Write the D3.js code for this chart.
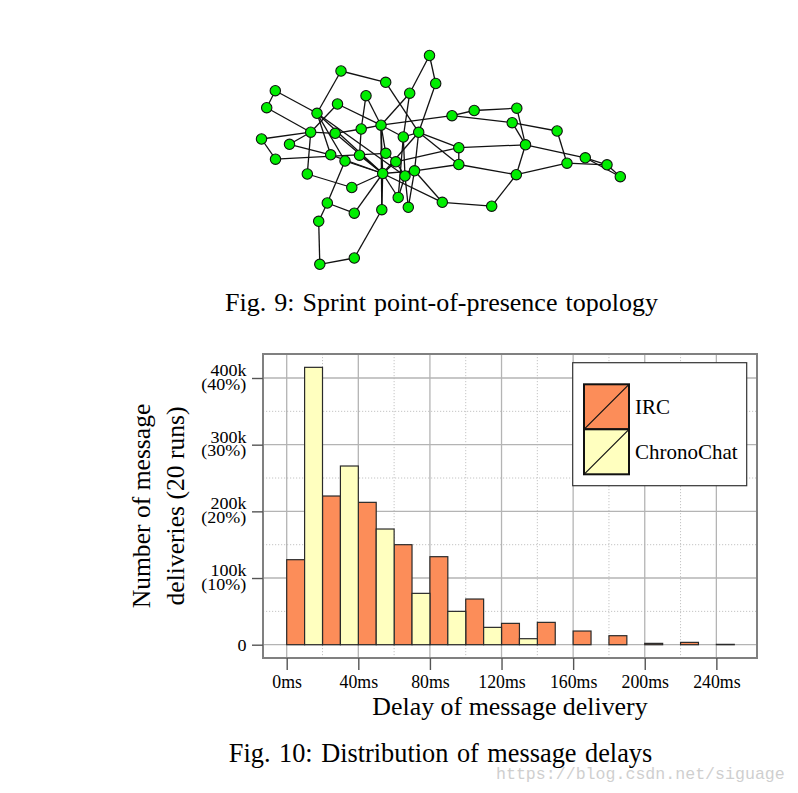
<!DOCTYPE html>
<html><head><meta charset="utf-8">
<script src="https://cdn.jsdelivr.net/npm/d3@7"></script>
<style>
body{margin:0;background:#fff;}
svg{display:block;}
</style></head>
<body>
<svg id="c" width="798" height="793"></svg>
<script>
// ---------- Fig. 9 network data (layout units) ----------
const nodeIds = ["A","B","C","D","E","F","G","H","I","J","K","L","M","N","O","P","Q","R","S","T","U","V","W","X","Y","Z","AA","AB","AC","AD","AE","AF","AG","AH","AI","AJ","AK","AL","AM","BA","BB","BC","BD","BE","BF","BG","BH","BI","BJ","BK","BL","BM"];
const nodeX = [174.5,86,130.7,180.7,20.3,154.7,111,11.7,82.5,62,197,126,106.2,55.7,80.2,163.7,148.3,6.5,34.5,75.7,104.5,130.8,20.5,90,140.8,127.7,150,159.5,52.3,96.8,143.2,153.3,72.3,187.3,99.3,126.8,63.7,99.3,64.8,219.2,261.8,257.2,302.1,203.8,270.5,203.8,312,330.3,352,365.3,261.3,236.7];
const nodeY = [10.5,26,37.3,38.5,45.7,48.2,50.7,62.7,59,68.3,70.7,80.2,84,87.2,88.3,87.3,92,94,99.3,109.8,110.2,108.3,114.2,116,116.8,128.5,131,125.8,129,142.5,152.5,162.3,158,157.3,168.2,164.7,176.3,213,219.3,65.5,63.2,77.7,86,102.7,99.8,119.5,118.2,112.8,119.8,131.7,129.7,161.2];
const edgeList = [
 ["A","D"],["A","F"],["B","C"],["B","J"],["C","P"],["D","P"],["F","L"],["F","Q"],
 ["E","H"],["E","J"],["H","N"],["I","N"],["I","L"],["G","M"],["G","L"],
 ["J","T"],["J","X"],["J","Z"],["J","AA"],["R","N"],["R","W"],["S","N"],["S","T"],
 ["N","O"],["O","M"],["M","L"],["L","K"],["K","BA"],["K","BC"],["BA","BB"],
 ["BB","BF"],["BC","BF"],["BC","BD"],["BD","BH"],["BF","BE"],["BF","BI"],["BE","BG"],
 ["BG","BL"],["BL","BF"],["BL","BH"],["BL","BM"],["BM","AH"],["BH","BJ"],["BI","BJ"],
 ["BI","BK"],["BJ","BK"],["P","BE"],["P","BG"],["Y","BE"],["AB","BG"],["Z","AH"],
 ["W","V"],["N","AC"],["AC","AD"],["AD","Z"],["X","AG"],["AG","AK"],["AG","AI"],
 ["AI","Z"],["AK","AM"],["AM","AL"],["AL","AJ"],["AJ","Z"],["AJ","L"],["L","V"],
 ["L","Q"],["L","Z"],["Q","AA"],["Q","P"],["P","Z"],["P","AB"],["V","Y"],["Y","AA"],
 ["Y","Z"],["Z","AB"],["Z","AE"],["AA","AF"],["AB","AF"],["AE","AA"],["U","Z"],
 ["X","Z"],["T","Z"],["M","U"],["O","Z"],["Q","AE"],["AB","AH"]
];

// ---------- Fig. 10 histogram data ----------
const binWidth = 10; // ms
const ircBinStart = [0,20,40,60,80,100,120,140,160,180,200,220,240];
const ircCounts   = [127500,223000,213500,150000,132000,68500,32000,33500,20500,13500,2000,3500,500];
const chronoBinStart = [10,30,50,70,90,110,130];
const chronoCounts   = [416000,268000,173500,77000,50000,26000,9000];
const xTickValues = [0,40,80,120,160,200,240];
const xMinorValues = [20,60,100,140,180,220];
const yTickValues = [0,100000,200000,300000,400000];
const yTickLabels = ["0","100k","200k","300k","400k"];
const yTickPercents = ["","(10%)","(20%)","(30%)","(40%)"];
const yMinorValues = [50000,150000,250000,350000];
const seriesNames = ["IRC","ChronoChat"];
const seriesColors = ["#fc8d59","#ffffbf"];

const SERIF = '"Liberation Serif","Times New Roman",serif';
const svg = d3.select("#c").style("font-family", SERIF);
svg.append("rect").attr("width",798).attr("height",793).attr("fill","#fff");

// ---------- Network ----------
const gx = d3.scaleLinear().domain([0,380]).range([255,635]);
const gy = d3.scaleLinear().domain([0,220]).range([45,265]);
const nodes = nodeIds.map((id,i)=>({id, x:nodeX[i], y:nodeY[i]}));
const byId = new Map(nodes.map(n=>[n.id,n]));
const gNet = svg.append("g");
gNet.selectAll("line").data(edgeList).join("line")
  .attr("x1",d=>gx(byId.get(d[0]).x)).attr("y1",d=>gy(byId.get(d[0]).y))
  .attr("x2",d=>gx(byId.get(d[1]).x)).attr("y2",d=>gy(byId.get(d[1]).y))
  .attr("stroke","#111").attr("stroke-width",1.3);
gNet.selectAll("circle").data(nodes).join("circle")
  .attr("cx",d=>gx(d.x)).attr("cy",d=>gy(d.y)).attr("r",5.2)
  .attr("fill","#00ee00").attr("stroke","#111").attr("stroke-width",1.1);

svg.append("text").attr("x",441.5).attr("y",310.5).attr("text-anchor","middle")
  .attr("font-size",26).attr("word-spacing",1.5).text("Fig. 9: Sprint point-of-presence topology");

// ---------- Histogram ----------
const pLeft=263, pRight=757, pTop=354, pBottom=658;
const x = d3.scaleLinear().domain([-13.24,262.7]).range([pLeft,pRight]);
const y = d3.scaleLinear().domain([-19950,436000]).range([pBottom,pTop]);
const gH = svg.append("g");

// grid
gH.append("g").selectAll("line").data(yMinorValues).join("line")
  .attr("x1",pLeft).attr("x2",pRight).attr("y1",d=>y(d)).attr("y2",d=>y(d))
  .attr("stroke","#c4c4c4").attr("stroke-width",1).attr("stroke-dasharray","1.2,1.8");
gH.append("g").selectAll("line").data(xMinorValues).join("line")
  .attr("y1",pTop).attr("y2",pBottom).attr("x1",d=>x(d)).attr("x2",d=>x(d))
  .attr("stroke","#c4c4c4").attr("stroke-width",1).attr("stroke-dasharray","1.2,1.8");
gH.append("g").selectAll("line").data(yTickValues).join("line")
  .attr("x1",pLeft).attr("x2",pRight).attr("y1",d=>y(d)).attr("y2",d=>y(d))
  .attr("stroke","#b4b4b4").attr("stroke-width",1.3);
gH.append("g").selectAll("line").data(xTickValues).join("line")
  .attr("y1",pTop).attr("y2",pBottom).attr("x1",d=>x(d)).attr("x2",d=>x(d))
  .attr("stroke","#b4b4b4").attr("stroke-width",1.3);

// bars
const drawBars = (starts, counts, color) => {
  gH.append("g").selectAll("rect").data(starts.map((s,i)=>({s,v:counts[i]}))).join("rect")
    .attr("x",d=>x(d.s)).attr("width",d=>x(d.s+binWidth)-x(d.s))
    .attr("y",d=>y(d.v)).attr("height",d=>y(0)-y(d.v))
    .attr("fill",color).attr("stroke","#2a2a2a").attr("stroke-width",1.2);
};
drawBars(ircBinStart, ircCounts, seriesColors[0]);
drawBars(chronoBinStart, chronoCounts, seriesColors[1]);

// frame
gH.append("rect").attr("x",pLeft).attr("y",pTop).attr("width",pRight-pLeft).attr("height",pBottom-pTop)
  .attr("fill","none").attr("stroke","#808080").attr("stroke-width",2);

// x axis
const xAxis = d3.axisBottom(x).tickValues(xTickValues).tickSize(12).tickPadding(6)
  .tickFormat(d=>d+"ms");
const gxA = gH.append("g").attr("transform",`translate(0,${pBottom})`).call(xAxis);
gxA.attr("font-family",null);
gxA.select(".domain").remove();
gxA.selectAll(".tick line").attr("stroke","#555").attr("stroke-width",1.4);
gxA.selectAll(".tick text").style("font-family",SERIF).attr("font-size",17.8)
  .attr("fill","#000").attr("dy",null).attr("y",30.3);

// y axis
const yAxis = d3.axisLeft(y).tickValues(yTickValues).tickSize(11).tickFormat("");
const gyA = gH.append("g").attr("transform",`translate(${pLeft},0)`).call(yAxis);
gyA.select(".domain").remove();
gyA.selectAll(".tick line").attr("stroke","#555").attr("stroke-width",1.4);
yTickValues.forEach((v,i)=>{
  const g = gH.append("g").attr("transform",`translate(246.6,${y(v)}) scale(1.1,1)`);
  const t = g.append("text").attr("text-anchor","end").attr("font-size",16.4).attr("fill","#000");
  if (yTickPercents[i]==="") {
    t.attr("x",0).attr("y",6).text(yTickLabels[i]);
  } else {
    t.append("tspan").attr("x",0).attr("y",-2).text(yTickLabels[i]);
    t.append("tspan").attr("x",-0.4).attr("y",11.8).text(yTickPercents[i]);
  }
});

// axis titles
gH.append("text").attr("x",(pLeft+pRight)/2).attr("y",715).attr("text-anchor","middle")
  .attr("font-size",25.9).text("Delay of message delivery");
const yt = gH.append("text").attr("transform","translate(150,506) rotate(-90)")
  .attr("text-anchor","middle").attr("font-size",25.6);
yt.append("tspan").attr("x",0).attr("y",0).text("Number of message");
yt.append("tspan").attr("x",0).attr("y",34).text("deliveries (20 runs)");

// legend
const lg = gH.append("g");
lg.append("rect").attr("x",572.7).attr("y",362.7).attr("width",174).attr("height",123)
  .attr("fill","#fff").attr("stroke","#333").attr("stroke-width",1.2);
seriesNames.forEach((name,i)=>{
  const sx=584, sy=384.3+i*45, s=45;
  lg.append("rect").attr("x",sx).attr("y",sy).attr("width",s).attr("height",s)
    .attr("fill",seriesColors[i]).attr("stroke","#111").attr("stroke-width",2);
  lg.append("line").attr("x1",sx).attr("y1",sy+s).attr("x2",sx+s).attr("y2",sy)
    .attr("stroke","#111").attr("stroke-width",1.2);
  lg.append("text").attr("x",635).attr("y",414+i*45).attr("font-size",21).text(name);
});

svg.append("text").attr("x",440.5).attr("y",761.5).attr("text-anchor","middle")
  .attr("font-size",26.3).attr("word-spacing",2).text("Fig. 10: Distribution of message delays");

// watermark
svg.append("text").attr("x",496).attr("y",779).style("font-family",'"Liberation Mono",monospace')
  .attr("font-size",16.6).attr("fill","#cfcfcf").text("https://blog.csdn.net/siguage");
</script>
</body></html>
